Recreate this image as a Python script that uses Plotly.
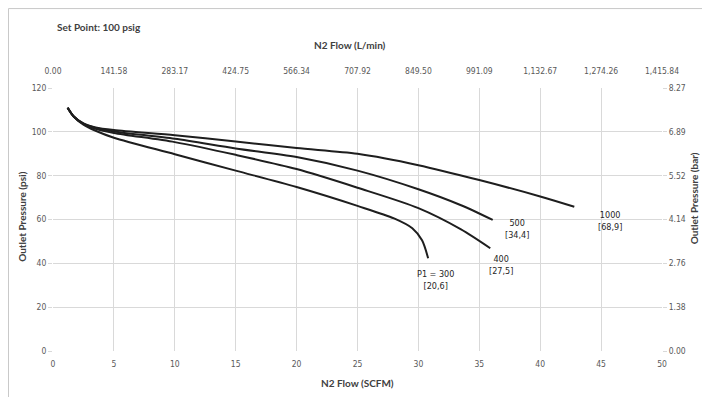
import plotly.graph_objects as go

# ---- data ----
flow_1000 = [1.2, 1.7, 2.5, 3.5, 5, 10, 15, 20, 25, 30, 35, 40, 42.8]
p_1000 = [111, 107, 103.8, 102, 100.8, 98.4, 95.6, 92.6, 90.0, 84.8, 78.0, 70.5, 65.8]

flow_500 = [1.2, 1.7, 2.5, 3.5, 5, 10, 15, 20, 25, 30, 33.5, 36.1]
p_500 = [111, 107, 103.7, 101.8, 100.2, 96.8, 92.4, 88.5, 82.3, 73.8, 66.5, 59.8]

flow_400 = [1.2, 1.7, 2.5, 3.5, 5, 10, 15, 20, 25, 30, 33.5, 35.9]
p_400 = [111, 107, 103.6, 101.4, 99.5, 95.3, 89.5, 83.0, 74.5, 65.2, 55.5, 46.9]

flow_300 = [1.2, 1.7, 2.5, 3.5, 5, 10, 15, 20, 25, 28, 29.5, 30.3, 30.8]
p_300 = [111, 107, 103.3, 100.5, 97.3, 89.8, 82.3, 74.8, 66.2, 60.5, 56.0, 50.5, 42.3]

series_labels = ["1000<br>[68,9]", "500<br>[34,4]", "400<br>[27,5]", "P1 = 300<br>[20,6]"]
label_x = [45.7, 38.1, 36.8, 31.4]
label_y = [59.3, 55.7, 39.3, 32.6]

scfm_ticks = [0, 5, 10, 15, 20, 25, 30, 35, 40, 45, 50]
lpm_ticks = ["0.00", "141.58", "283.17", "424.75", "566.34", "707.92", "849.50",
             "991.09", "1,132.67", "1,274.26", "1,415.84"]
psi_ticks = [0, 20, 40, 60, 80, 100, 120]
bar_ticks = ["0.00", "1.38", "2.76", "4.14", "5.52", "6.89", "8.27"]

LINE = "#1e1e1e"
GRID = "#d9d9d9"
TICKC = "#595959"
TFONT = dict(family="DejaVu Sans Condensed, Lato, Arial", size=8.5, color=TICKC)
BFONT = dict(family="Lato, Open Sans, Arial", size=10, color="#404040")

fig = go.Figure()
for fx, py in [(flow_1000, p_1000), (flow_500, p_500), (flow_400, p_400), (flow_300, p_300)]:
    fig.add_trace(go.Scatter(x=fx, y=py, mode="lines",
                             line=dict(color=LINE, width=2, shape="spline", smoothing=0.8),
                             showlegend=False, hoverinfo="skip"))

# invisible trace to activate secondary axes
fig.add_trace(go.Scatter(x=[0, 50], y=[0, 120], xaxis="x2", yaxis="y2", mode="markers",
                         marker=dict(opacity=0), showlegend=False, hoverinfo="skip"))

for txt, lx, ly in zip(series_labels, label_x, label_y):
    fig.add_annotation(x=lx, y=ly, text=txt, showarrow=False, xref="x", yref="y",
                       font=dict(family="DejaVu Sans Condensed, Lato, Arial", size=9, color="#262626"),
                       align="center")

fig.add_annotation(x=0.003, y=1.232, xref="paper", yref="paper", text="<b>Set Point: 100 psig</b>",
                   showarrow=False, xanchor="left", yanchor="middle", font=BFONT)
fig.add_annotation(x=0.488, y=1.163, xref="paper", yref="paper", text="<b>N2 Flow (L/min)</b>",
                   showarrow=False, xanchor="center", yanchor="middle", font=BFONT)
fig.add_annotation(x=0.5, y=-0.122, xref="paper", yref="paper", text="<b>N2 Flow (SCFM)</b>",
                   showarrow=False, xanchor="center", yanchor="middle", font=BFONT)
fig.add_annotation(x=-0.051, y=0.51, xref="paper", yref="paper", text="<b>Outlet Pressure (psi)</b>",
                   showarrow=False, xanchor="center", yanchor="middle", textangle=-90, font=BFONT)
fig.add_annotation(x=1.054, y=0.58, xref="paper", yref="paper", text="<b>Outlet Pressure (bar)</b>",
                   showarrow=False, xanchor="center", yanchor="middle", textangle=-90, font=BFONT)

# outer frame (top and left edges of the chart area)
fig.add_shape(type="rect", xref="paper", yref="paper", x0=-0.0731, x1=1.3, y0=-0.5, y1=1.302,
              line=dict(color="#c8c8c8", width=1), layer="below")

fig.update_layout(
    width=702, height=389,
    margin=dict(l=45, r=48, t=80, b=46, autoexpand=False),
    paper_bgcolor="white", plot_bgcolor="white",
    xaxis=dict(range=[0, 50], tickvals=scfm_ticks, ticktext=[str(v) for v in scfm_ticks],
               showgrid=True, gridcolor=GRID, gridwidth=1, zeroline=False, showline=False,
               ticks="outside", ticklen=5, tickcolor="rgba(0,0,0,0)", tickfont=TFONT,
               automargin=False),
    xaxis2=dict(range=[0, 50], overlaying="x", side="top", tickvals=scfm_ticks, ticktext=lpm_ticks,
                showgrid=False, zeroline=False, showline=False,
                ticks="outside", ticklen=10, tickcolor="rgba(0,0,0,0)", tickfont=TFONT,
                automargin=False),
    yaxis=dict(range=[0, 120], tickvals=psi_ticks, ticktext=[str(v) for v in psi_ticks],
               showgrid=True, gridcolor=GRID, gridwidth=1, zeroline=False, showline=False,
               ticks="outside", ticklen=4, tickcolor=GRID, tickfont=TFONT, automargin=False),
    yaxis2=dict(range=[0, 120], overlaying="y", side="right", tickvals=psi_ticks, ticktext=bar_ticks,
                showgrid=False, zeroline=False, showline=False,
                ticks="outside", ticklen=4, tickcolor=GRID, tickfont=TFONT, automargin=False),
)

fig.write_html("out.html")
